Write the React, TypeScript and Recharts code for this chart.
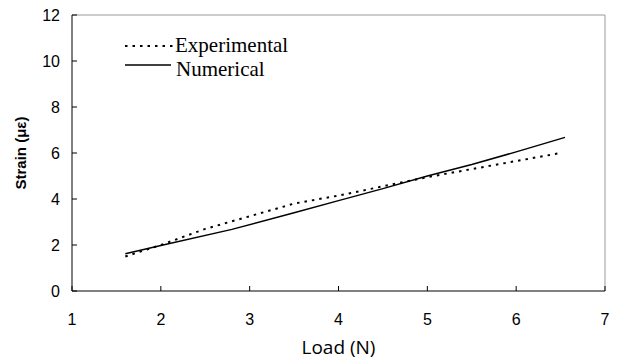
import React from 'react';
import { LineChart, Line, XAxis, YAxis, ReferenceLine } from 'recharts';

// load (N) vs strain readings
const experimentalLoad = [1.6, 2.0, 2.5, 3.0, 3.5, 4.0, 4.5, 5.0, 5.5, 6.0, 6.5];
const experimentalStrain = [1.5, 2.0, 2.7, 3.25, 3.8, 4.15, 4.55, 4.95, 5.3, 5.65, 6.0];
const numericalLoad = [1.6, 2.0, 2.8, 3.5, 4.0, 4.5, 5.0, 5.5, 6.0, 6.55];
const numericalStrain = [1.62, 1.98, 2.68, 3.4, 3.93, 4.45, 5.0, 5.5, 6.05, 6.68];
const xTicks = [1, 2, 3, 4, 5, 6, 7];
const yTicks = [0, 2, 4, 6, 8, 10, 12];

const experimental = experimentalLoad.map((x, i) => ({ x, y: experimentalStrain[i] }));
const numerical = numericalLoad.map((x, i) => ({ x, y: numericalStrain[i] }));

const tickFont = '"Liberation Sans", Arial, sans-serif';
const serifFont = '"Liberation Serif", "Times New Roman", serif';

const XTick = (props: any) => {
  const { x, y, payload } = props;
  return (
    <g>
      <line x1={x} y1={y} x2={x} y2={y - 5} stroke="#000" />
      <text x={x} y={y + 34} textAnchor="middle" fontSize={16} fontFamily={tickFont} fill="#000">
        {payload.value}
      </text>
    </g>
  );
};

const YTick = (props: any) => {
  const { x, y, payload } = props;
  return (
    <g>
      <line x1={x} y1={y} x2={x + 5} y2={y} stroke="#000" />
      <text x={x - 12} y={y + 6} textAnchor="end" fontSize={16} fontFamily={tickFont} fill="#000">
        {payload.value}
      </text>
    </g>
  );
};

// legend drawn as an overlay so it doesn't take space from the plot
const LegendBox = () => (
  <svg width={618} height={100} style={{ position: 'absolute', left: 0, top: 0 }}>
    <line x1={125} y1={46} x2={173} y2={46} stroke="#000" strokeWidth={2} strokeDasharray="2.5 5" />
    <text x={175} y={52} fontSize={21} fontFamily={serifFont} fill="#000">
      Experimental
    </text>
    <line x1={125} y1={65} x2={171} y2={65} stroke="#000" strokeWidth={1.5} />
    <text x={176} y={76} fontSize={21} fontFamily={serifFont} fill="#000">
      Numerical
    </text>
  </svg>
);

export default function App() {
  return (
    <div style={{ position: 'absolute', left: 0, top: 0, width: 618, height: 361, background: '#fff' }}>
      <LineChart width={618} height={361} margin={{ top: 15, right: 13, bottom: 0, left: 0 }}>
        <XAxis
          type="number"
          dataKey="x"
          domain={[1, 7]}
          ticks={xTicks}
          height={70}
          tickSize={0}
          tickMargin={0}
          tick={<XTick />}
          stroke="#000"
          label={{
            value: 'Load (N)',
            position: 'insideBottom',
            offset: 7,
            fontSize: 19,
            fill: '#000',
            fontFamily: '"Open Sans", sans-serif',
          }}
        />
        <YAxis
          type="number"
          dataKey="y"
          domain={[0, 12]}
          ticks={yTicks}
          width={72}
          tickSize={0}
          tickMargin={0}
          tick={<YTick />}
          stroke="#000"
          label={{
            value: 'Strain (με)',
            angle: -90,
            position: 'insideLeft',
            offset: 21,
            fontSize: 15,
            fontWeight: 'bold',
            fill: '#000',
            fontFamily: tickFont,
            style: { textAnchor: 'middle' },
          }}
        />
        <ReferenceLine y={12} stroke="#999" />
        <ReferenceLine x={7} stroke="#999" />
        <Line
          data={experimental}
          dataKey="y"
          name="Experimental"
          stroke="#000"
          strokeWidth={2}
          strokeDasharray="2.5 5"
          dot={false}
          isAnimationActive={false}
        />
        <Line
          data={numerical}
          dataKey="y"
          name="Numerical"
          stroke="#000"
          strokeWidth={1.5}
          dot={false}
          isAnimationActive={false}
        />
      </LineChart>
      <LegendBox />
    </div>
  );
}
